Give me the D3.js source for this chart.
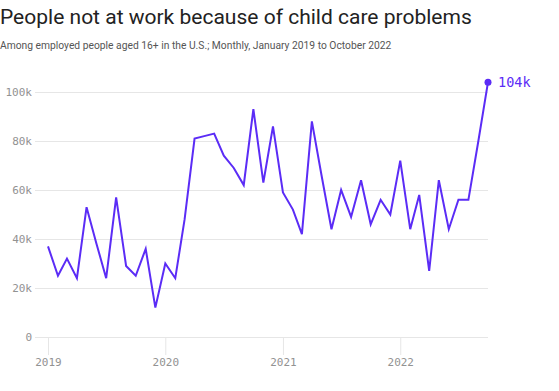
<!DOCTYPE html>
<html>
<head>
<meta charset="utf-8">
<script src="https://cdn.jsdelivr.net/npm/d3@7"></script>
<style>
  body { margin: 0; background: #fff; }
  svg { display: block; }
</style>
</head>
<body>
<script>
// monthly values, Jan 2019 .. Oct 2022 (thousands)
var startMonth = "2019-01";
var values = [
  37, 25, 32, 24, 53, 38, 24, 57, 29, 25, 36, 12,
  30, 24, 48, 81, 82, 83, 74, 69, 62, 93, 63, 86,
  59, 52, 42, 88, 66, 44, 60, 49, 64, 46, 56, 50,
  72, 44, 58, 27, 64, 44, 56, 56, 80, 104
];
var yTicks = [0, 20, 40, 60, 80, 100];
var xTickYears = [2019, 2020, 2021, 2022];
var title = "People not at work because of child care problems";
var subtitle = "Among employed people aged 16+ in the U.S.; Monthly, January 2019 to October 2022";

// shrink a text's font size until it spans the wanted width
function fitWidth(sel, target){
	var size = +sel.attr("font-size");
	var w = sel.node().getComputedTextLength();
	if (w > target) sel.attr("font-size", size * target / w);
}

function chart(){
	var W = 559, H = 391;
	var margin = {top: 92, right: 71, bottom: 54, left: 48},
		width = W - margin.left - margin.right,
		height = H - margin.top - margin.bottom;

	var parser = d3.timeParse("%Y-%m");
	var start = parser(startMonth);
	var data = values.map(function(v, i){
		return {date: d3.timeMonth.offset(start, i), value: v};
	});

	var xScale = d3.scaleTime()
		.domain([parser("2019-01"), parser("2022-10")])
		.range([0, width]);
	var yScale = d3.scaleLinear().domain([0, 100]).range([height, 0]);

	var svg = d3.select("body").append("svg")
		.attr("width", W)
		.attr("height", H);

	var t = svg.append("text")
		.attr("x", 0).attr("y", 24)
		.attr("font-family", "Roboto, 'Noto Sans', sans-serif")
		.attr("font-size", 23.5)
		.attr("fill", "#222")
		.text(title);
	fitWidth(t, 472);

	var st = svg.append("text")
		.attr("x", 0).attr("y", 49)
		.attr("font-family", "Roboto, 'Noto Sans', sans-serif")
		.attr("font-size", 11.5)
		.attr("fill", "#555")
		.text(subtitle);
	fitWidth(st, 392);

	var g = svg.append("g")
		.attr("transform", "translate(" + margin.left + "," + margin.top + ")");

	// y grid + labels
	var yAxis = d3.axisLeft(yScale)
		.tickValues(yTicks)
		.tickSize(-(width + 13))
		.tickPadding(3)
		.tickFormat(function(d){ return d === 0 ? "0" : d + "k"; });
	var yg = g.append("g")
		.attr("transform", "translate(-13,0)")
		.call(yAxis);
	yg.select(".domain").remove();
	yg.selectAll(".tick line").attr("stroke", "#e6e6e6").attr("stroke-width", 1);
	yg.selectAll(".tick text")
		.attr("fill", "#929292")
		.attr("font-family", "'DejaVu Sans Mono', monospace")
		.attr("font-size", 11);

	// x ticks
	var xAxis = d3.axisBottom(xScale)
		.tickValues(xTickYears.map(function(y){ return new Date(y, 0, 1); }))
		.tickSize(18)
		.tickPadding(3)
		.tickFormat(d3.timeFormat("%Y"));
	var xg = g.append("g")
		.attr("transform", "translate(0," + height + ")")
		.call(xAxis);
	xg.select(".domain").remove();
	xg.selectAll(".tick line").attr("stroke", "#e6e6e6").attr("stroke-width", 1);
	xg.selectAll(".tick text")
		.attr("fill", "#929292")
		.attr("font-family", "'DejaVu Sans Mono', monospace")
		.attr("font-size", 11);

	var line = d3.line()
		.x(function(d){ return xScale(d.date); })
		.y(function(d){ return yScale(d.value); });

	g.append("path")
		.datum(data)
		.attr("fill", "none")
		.attr("stroke", "#5b2cf6")
		.attr("stroke-width", 2)
		.attr("d", line);

	var last = data[data.length - 1];
	g.append("circle")
		.attr("cx", xScale(last.date))
		.attr("cy", yScale(last.value))
		.attr("r", 3.5)
		.attr("fill", "#5b2cf6");

	g.append("text")
		.attr("x", xScale(last.date) + 10)
		.attr("y", yScale(last.value) + 5)
		.attr("fill", "#5b2cf6")
		.attr("font-family", "'DejaVu Sans Mono', monospace")
		.attr("font-size", 13.5)
		.text(last.value + "k");
}

chart();
</script>
</body>
</html>
